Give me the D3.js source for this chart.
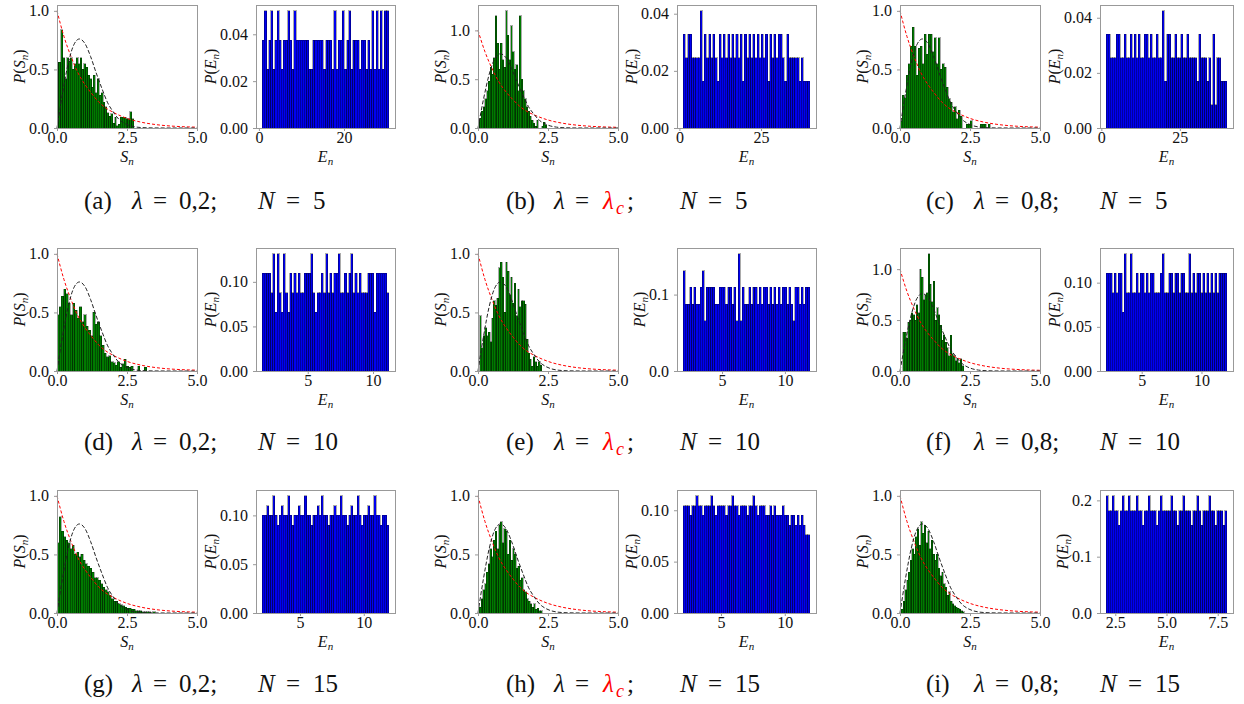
<!DOCTYPE html>
<html lang="en">
<head>
<meta charset="UTF-8">
<title>Level spacing histograms</title>
<script src="https://cdn.jsdelivr.net/npm/d3@7"></script>
<style>
  body { margin: 0; background: #fff; }
  text { font-family: "Liberation Serif", "DejaVu Serif", serif; fill: #111; }
</style>
</head>
<body>
<script>
// ---- P(S_n) histograms (bin heights, equal bins over the range) ----
var sHistA = [0.56,0.56,0.84,0.6,0.42,0.6,0.57,0.6,0.5,0.55,0.6,0.55,0.6,0.5,0.55,0.52,0.45,0.42,0.35,0.45,0.3,0.42,0.28,0.3,0.22,0.18,0.13,0.1,0.12,0.04,0.09,0.02,0.03,0.09,0.09,0.09,0.08,0.08,0.14,0.08];
var sRangeA = [0, 2.74];
var sHistB = [0.08,0.1,0.17,0.22,0.3,0.38,0.48,0.62,0.55,0.72,1.15,0.87,0.6,0.87,0.7,0.62,1.2,0.95,0.7,1.05,0.78,0.6,0.65,0.38,1.15,0.5,0.38,0.3,0.22,0.17,0.12,0.08,0.05,0.02,0.08,0,0,0.02,0.06,0.03];
var sRangeB = [0, 2.46];
var sHistC = [0.06,0.28,0.26,0.45,0.55,0.7,0.86,0.7,0.45,0.68,0.7,0.55,0.8,0.63,0.8,0.8,0.65,0.77,0.55,0.77,0.5,0.55,0.52,0.35,0.25,0.22,0.14,0.18,0.08,0.15,0.1,0,0,0.03,0.03,0.06,0,0,0,0,0.03,0.03,0.03,0,0.03];
var sRangeC = [0, 3.23];
var sHistD = [0.48,0.55,0.64,0.7,0.66,0.58,0.48,0.58,0.52,0.45,0.55,0.42,0.48,0.38,0.35,0.3,0.5,0.4,0.42,0.3,0.22,0.15,0.12,0.13,0.08,0.07,0.05,0.08,0.03,0.06,0.1,0.04,0.03,0.04,0,0,0.04,0,0,0.03];
var sRangeD = [0, 3.2];
var sHistE = [0.47,0.2,0.3,0.37,0.3,0.33,0.25,0.45,0.6,0.56,0.62,0.88,0.93,0.8,0.5,0.93,0.85,0.65,0.8,0.58,0.75,0.47,0.7,0.55,0.6,0.6,0.57,0.27,0.15,0.1,0.04,0.12,0.08,0.04,0.08,0.05];
var sRangeE = [0.06, 2.28];
var sHistF = [0.38,0.38,0.32,0.48,0.5,0.57,0.55,0.5,0.65,0.57,1.0,0.92,0.7,0.75,0.77,1.15,0.85,0.68,0.88,0.5,0.62,0.55,0.45,0.3,0.35,0.28,0.23,0.15,0.35,0.17,0.15,0.1,0.12,0.08,0.12,0.05];
var sRangeF = [0.1, 2.27];
var sHistG = [0.6,0.82,0.7,0.65,0.62,0.6,0.55,0.58,0.5,0.52,0.48,0.5,0.45,0.42,0.4,0.38,0.35,0.3,0.3,0.28,0.25,0.22,0.2,0.18,0.15,0.12,0.1,0.1,0.08,0.07,0.06,0.05,0.04,0.04,0.03,0.03,0.02,0.02,0.02,0.01,0.01,0.01,0.01,0,0.01];
var sRangeG = [0, 3.5];
var sHistH = [0.05,0.12,0.2,0.25,0.35,0.42,0.55,0.48,0.62,0.7,0.55,0.75,0.78,0.6,0.72,0.7,0.5,0.62,0.45,0.55,0.5,0.38,0.4,0.28,0.3,0.2,0.18,0.12,0.1,0.08,0.05,0.08,0.03,0.04,0.02,0.02];
var sRangeH = [0.05, 2.3];
var sHistI = [0.03,0.1,0.2,0.28,0.35,0.45,0.55,0.5,0.65,0.72,0.58,0.78,0.68,0.75,0.6,0.7,0.55,0.62,0.5,0.45,0.5,0.38,0.32,0.35,0.25,0.22,0.15,0.18,0.1,0.08,0.06,0.05,0.04,0.03,0.02,0.01];
var sRangeI = [0.05, 2.3];

// ---- P(E_n) histograms (counts per bin, density = count * unit) ----
var eCountsA = [3,4,2,3,4,2,3,4,3,2,3,3,4,3,2,4,3,3,3,3,3,3,2,2,3,3,3,3,3,2,3,3,3,2,4,2,3,3,4,2,3,4,2,3,3,3,2,3,3,2,3,2,4,2,4,2,4,2,4,4];
var eRangeA = [0.8, 30.5], eUnitA = 0.0125;
var eCountsB = [4,3,4,4,3,3,3,3,5,2,4,3,4,3,4,3,2,4,3,4,3,4,3,4,3,4,3,4,2,4,3,4,3,4,3,4,3,4,3,4,2,4,3,4,3,4,4,3,2,4,3,3,3,3,3,2,3,2,2,2];
var eRangeB = [1.2, 39.9], eUnitB = 0.0082;
var eCountsC = [4,4,3,3,3,4,4,3,3,4,3,3,4,3,4,3,4,3,3,4,4,3,4,3,3,4,3,3,5,2,4,4,3,3,4,3,3,4,3,3,4,3,3,3,3,2,4,3,3,3,2,3,1,4,1,3,3,2,2,2];
var eRangeC = [1.5, 40.0], eUnitC = 0.0085;
var eCountsD = [5,5,5,5,4,6,3,6,4,3,6,4,3,5,4,5,4,5,4,4,5,5,5,6,4,3,4,4,5,4,6,4,5,4,5,5,6,4,4,5,4,5,6,4,5,4,5,4,4,4,5,5,5,3,5,5,5,5,5,4];
var eRangeD = [1.52, 11.2], eUnitD = 0.0219;
var eCountsE = [6,4,4,5,4,5,4,4,5,6,3,5,5,5,5,4,4,5,5,5,4,5,5,4,5,3,7,3,5,4,4,5,4,5,5,4,5,4,5,5,4,5,4,5,4,5,4,5,5,4,5,4,3,5,5,4,5,4,5,5];
var eRangeE = [1.92, 11.97], eUnitE = 0.0219;
var eCountsF = [5,5,5,4,5,4,5,5,3,6,4,4,6,4,4,5,4,5,5,4,5,4,5,5,4,4,4,5,6,4,4,5,5,4,5,5,4,5,5,4,4,6,4,5,4,5,5,4,5,4,5,4,5,4,5,4,5,5,5,5];
var eRangeF = [2.02, 12.13], eUnitF = 0.0221;
var eCountsG = [10,10,11,10,10,12,10,9,10,11,10,10,12,10,9,10,10,11,10,10,12,10,10,9,10,10,11,10,12,10,10,9,10,10,11,10,10,12,10,10,9,10,11,10,10,12,10,9,10,10,11,10,10,12,10,10,9,10,10,9];
var eRangeG = [2.05, 11.95], eUnitG = 0.01;
var eCountsH = [11,11,11,10,11,11,12,11,11,10,11,11,11,12,11,10,11,11,11,11,10,11,11,12,11,11,10,11,11,11,10,11,11,12,11,10,11,11,11,10,10,11,10,11,10,10,10,11,10,10,9,10,10,9,10,9,10,9,8,8];
var eRangeH = [2.05, 11.95], eUnitH = 0.0095;
var eCountsI = [8,7,7,8,7,7,6,7,8,7,7,8,7,7,7,8,7,7,6,7,7,8,7,7,7,6,7,8,7,7,7,7,8,7,7,6,7,7,8,7,7,7,6,7,7,8,7,6,7,7,7,8,7,7,6,7,7,7,6,7];
var eRangeI = [2.05, 7.95], eUnitI = 0.026;

// ---- tick labels ----
var sXTicks = ["0.0", "2.5", "5.0"];
var sYTicks = ["0.0", "0.5", "1.0"];
var eXTicksA = ["0", "20"], eYTicksA = ["0.00", "0.02", "0.04"];
var eXTicksB = ["0", "25"], eYTicksB = ["0.00", "0.02", "0.04"];
var eXTicksC = ["0", "25"], eYTicksC = ["0.00", "0.02", "0.04"];
var eXTicksD = ["5", "10"], eYTicksD = ["0.00", "0.05", "0.10"];
var eXTicksE = ["5", "10"], eYTicksE = ["0.0", "0.1"];
var eXTicksF = ["5", "10"], eYTicksF = ["0.00", "0.05", "0.10"];
var eXTicksG = ["5", "10"], eYTicksG = ["0.00", "0.05", "0.10"];
var eXTicksH = ["5", "10"], eYTicksH = ["0.00", "0.05", "0.10"];
var eXTicksI = ["2.5", "5.0", "7.5"], eYTicksI = ["0.0", "0.1", "0.2"];

// ---- reference curves ----
var poissonS = [0, 0.25, 0.5, 0.75, 1, 1.25, 1.5, 1.75, 2, 2.5, 3, 3.5, 4, 4.5, 5];
var poissonP = [1, 0.78, 0.61, 0.47, 0.37, 0.29, 0.22, 0.17, 0.135, 0.082, 0.05, 0.03, 0.018, 0.011, 0.007];
var wignerS = [0, 0.2, 0.4, 0.6, 0.8, 1.0, 1.2, 1.4, 1.6, 1.8, 2.0, 2.2, 2.4, 2.6, 2.8, 3.0, 3.5, 4, 5];
var wignerP = [0, 0.30, 0.55, 0.71, 0.76, 0.72, 0.61, 0.47, 0.34, 0.22, 0.14, 0.077, 0.041, 0.02, 0.009, 0.004, 0.0005, 0, 0];

// ---- captions ----
var letters = ["a", "b", "c", "d", "e", "f", "g", "h", "i"];
var lambdas = ["0,2", "c", "0,8"];   // "c" means lambda_c
var sizes = [5, 10, 15];

var W = 1244, H = 704;
var svg = d3.select("body").append("svg").attr("width", W).attr("height", H);

var colGreenX = [57, 478, 900], colBlueX = [256, 677, 1100], colBlueW = [139, 139, 133];
var rowTop = [5, 248, 490], panelH = 123, greenW = 140;
var captionCX = [203, 625, 1045], captionY = [209, 450, 692];

var sHists = [sHistA, sHistB, sHistC, sHistD, sHistE, sHistF, sHistG, sHistH, sHistI];
var sRanges = [sRangeA, sRangeB, sRangeC, sRangeD, sRangeE, sRangeF, sRangeG, sRangeH, sRangeI];
var eCounts = [eCountsA, eCountsB, eCountsC, eCountsD, eCountsE, eCountsF, eCountsG, eCountsH, eCountsI];
var eRanges = [eRangeA, eRangeB, eRangeC, eRangeD, eRangeE, eRangeF, eRangeG, eRangeH, eRangeI];
var eUnits = [eUnitA, eUnitB, eUnitC, eUnitD, eUnitE, eUnitF, eUnitG, eUnitH, eUnitI];
var eXTicks = [eXTicksA, eXTicksB, eXTicksC, eXTicksD, eXTicksE, eXTicksF, eXTicksG, eXTicksH, eXTicksI];
var eYTicks = [eYTicksA, eYTicksB, eYTicksC, eYTicksD, eYTicksE, eYTicksF, eYTicksG, eYTicksH, eYTicksI];

function styleAxis(g) {
  g.select(".domain").remove();
  g.selectAll(".tick line").attr("stroke", "#999");
  g.selectAll(".tick text").attr("font-size", 16).attr("fill", "#111")
    .style("font-family", "'Liberation Serif', serif");
}

// label like P(S_n), S_n
function mathLabel(sel, fn, v) {
  if (fn) {
    sel.append("tspan").attr("font-style", "italic").text("P");
    sel.append("tspan").text("(");
  }
  sel.append("tspan").attr("font-style", "italic").text(v);
  sel.append("tspan").attr("font-style", "italic").attr("font-size", 11).attr("dy", 3).text("n");
  if (fn) sel.append("tspan").attr("dy", -3).text(")");
}

function axesFrame(g, x0, y0, w, h, xTicks, yTicks, x, y, varName) {
  var xa = g.append("g").attr("transform", "translate(0," + (y0 + h) + ")")
    .call(d3.axisBottom(x).tickValues(xTicks.map(Number)).tickSize(3).tickPadding(1)
      .tickFormat(function (d, i) { return xTicks[i]; }));
  styleAxis(xa);
  var ya = g.append("g").attr("transform", "translate(" + x0 + ",0)")
    .call(d3.axisLeft(y).tickValues(yTicks.map(Number)).tickSize(3).tickPadding(5)
      .tickFormat(function (d, i) { return yTicks[i]; }));
  styleAxis(ya);
  g.append("rect").attr("x", x0 + 0.5).attr("y", y0 + 0.5).attr("width", w).attr("height", h)
    .attr("fill", "none").attr("stroke", "#999").attr("stroke-width", 1);
  var bb = ya.node().getBBox();
  var lx = x0 + bb.x - 9, ly = y0 + h / 2;
  var yl = g.append("text").attr("font-size", 16).attr("text-anchor", "middle")
    .attr("transform", "translate(" + (lx + 5) + "," + ly + ") rotate(-90)");
  mathLabel(yl, true, varName);
  var xl = g.append("text").attr("font-size", 16).attr("text-anchor", "middle")
    .attr("x", x0 + w / 2).attr("y", y0 + h + 34);
  mathLabel(xl, false, varName);
}

function drawBars(g, data, xPos, bw, yPos, y0, fill) {
  g.selectAll("rect.bar").data(data).enter().append("rect").attr("class", "bar")
    .attr("x", function (d, i) { return xPos(i); })
    .attr("width", bw)
    .attr("y", function (d) { return yPos(d); })
    .attr("height", function (d) { return y0 - yPos(d); })
    .attr("fill", fill).attr("stroke", "#000").attr("stroke-opacity", 0.55)
    .attr("stroke-width", 0.6).attr("shape-rendering", "crispEdges");
}

d3.range(9).forEach(function (k) {
  var r = Math.floor(k / 3), c = k % 3;
  var y0 = rowTop[r];

  // ---- spacing distribution panel ----
  var gx = colGreenX[c];
  var hist = sHists[k], rng = sRanges[k];
  var xs = d3.scaleLinear().domain([0, 5]).range([gx, gx + greenW]);
  var ys = d3.scaleLinear().domain([0, Math.max(1, d3.max(hist)) * 1.05]).range([y0 + panelH, y0]);
  var g1 = svg.append("g");
  var bw = (rng[1] - rng[0]) / hist.length;
  drawBars(g1, hist, function (i) { return xs(rng[0] + i * bw); }, xs(bw) - xs(0), ys, ys(0), "#007a00");
  var line = d3.line().curve(d3.curveMonotoneX);
  g1.append("path").attr("d", line(poissonS.map(function (s, i) { return [xs(s), ys(poissonP[i])]; })))
    .attr("fill", "none").attr("stroke", "red").attr("stroke-width", 1).attr("stroke-dasharray", "3,2");
  g1.append("path").attr("d", line(wignerS.map(function (s, i) { return [xs(s), ys(wignerP[i])]; })))
    .attr("fill", "none").attr("stroke", "#222").attr("stroke-width", 1).attr("stroke-dasharray", "4,2");
  axesFrame(g1, gx, y0, greenW, panelH, sXTicks, sYTicks, xs, ys, "S");

  // ---- level distribution panel ----
  var bx = colBlueX[c], bwid = colBlueW[c];
  var cnt = eCounts[k], er = eRanges[k], unit = eUnits[k];
  var span = er[1] - er[0];
  var xe = d3.scaleLinear().domain([er[0] - 0.05 * span, er[1] + 0.05 * span]).range([bx, bx + bwid]);
  var ye = d3.scaleLinear().domain([0, d3.max(cnt) * unit * 1.05]).range([y0 + panelH, y0]);
  var g2 = svg.append("g");
  var ebw = span / cnt.length;
  drawBars(g2, cnt.map(function (v) { return v * unit; }),
    function (i) { return xe(er[0] + i * ebw); }, xe(er[0] + ebw) - xe(er[0]), ye, ye(0), "#0000f0");
  axesFrame(g2, bx, y0, bwid, panelH, eXTicks[k], eYTicks[k], xe, ye, "E");

  // ---- caption ----
  var cx = captionCX[c], cy = captionY[r];
  var cap = svg.append("g").attr("font-size", 25);
  function part(x, txt, italic, color) {
    var t = cap.append("text").attr("x", x).attr("y", cy).text(txt);
    if (italic) t.attr("font-style", "italic");
    if (color) t.style("fill", color);
    return t;
  }
  part(cx - 119, "(" + letters[k] + ")");
  part(cx - 71, "λ", true);
  part(cx - 50, "=");
  if (lambdas[c] === "c") {
    part(cx - 22, "λ", true, "red");
    part(cx - 9, "c", true, "red").attr("font-size", 18).attr("y", cy + 5);
    part(cx + 2, ";");
  } else {
    part(cx - 24, lambdas[c] + ";");
  }
  part(cx + 55, "N", true);
  part(cx + 83, "=");
  part(cx + 110, String(sizes[r]));
});
</script>
</body>
</html>
